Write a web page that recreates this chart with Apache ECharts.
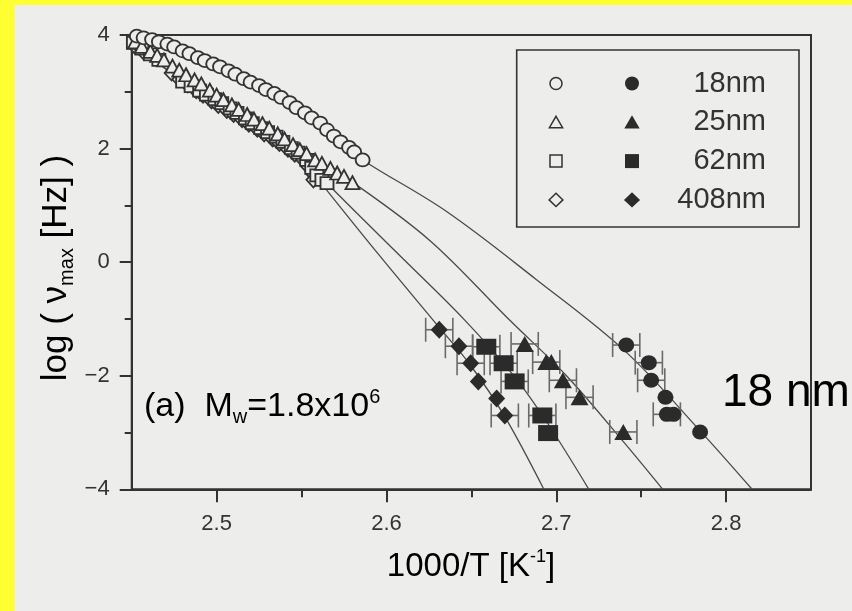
<!DOCTYPE html>
<html>
<head>
<meta charset="utf-8">
<script src="https://cdn.jsdelivr.net/npm/echarts@6/dist/echarts.min.js"></script>
<style>
  html, body { margin: 0; padding: 0; background: #ededeb; }
  #chart { width: 852px; height: 611px; }
</style>
</head>
<body>
<div id="chart"></div>
<script>
// Film thicknesses shown in the legend
const sizeLabels = ['18nm', '25nm', '62nm', '408nm'];

// Axis ticks
const xTicks = [2.5, 2.6, 2.7, 2.8];
const xMinorTicks = [2.55, 2.65, 2.75];
const yTicks = [-4, -2, 0, 2, 4];

// Open symbols: dielectric data, [1000/T, log(nu_max)]
const open18 = [[2.453,3.98],[2.457,3.95],[2.462,3.92],[2.466,3.88],[2.471,3.84],[2.475,3.79],[2.480,3.72],[2.484,3.67],[2.489,3.60],[2.493,3.55],[2.498,3.49],[2.502,3.44],[2.507,3.37],[2.511,3.31],[2.516,3.23],[2.520,3.17],[2.525,3.11],[2.529,3.04],[2.534,2.97],[2.538,2.90],[2.543,2.81],[2.547,2.72],[2.552,2.63],[2.556,2.54],[2.561,2.45],[2.565,2.33],[2.569,2.22],[2.573,2.12],[2.578,2.02],[2.581,1.94],[2.586,1.80]];
const open25 = [[2.452,3.88],[2.456,3.80],[2.461,3.71],[2.465,3.64],[2.469,3.56],[2.474,3.45],[2.478,3.38],[2.482,3.30],[2.487,3.21],[2.491,3.14],[2.496,3.03],[2.500,2.94],[2.504,2.86],[2.509,2.77],[2.513,2.69],[2.518,2.60],[2.522,2.52],[2.527,2.44],[2.531,2.36],[2.536,2.26],[2.540,2.17],[2.545,2.07],[2.549,1.98],[2.553,1.91],[2.558,1.80],[2.562,1.74],[2.567,1.65],[2.571,1.57],[2.575,1.51],[2.580,1.40]];
const open62 = [[2.451,3.86],[2.456,3.76],[2.461,3.66],[2.466,3.56],[2.480,3.18],[2.485,3.10],[2.490,3.02],[2.494,2.95],[2.499,2.87],[2.503,2.80],[2.508,2.71],[2.512,2.63],[2.517,2.53],[2.521,2.45],[2.526,2.36],[2.530,2.29],[2.535,2.21],[2.539,2.12],[2.544,2.01],[2.548,1.93],[2.553,1.80],[2.556,1.66],[2.559,1.53],[2.562,1.45],[2.565,1.39]];
const open408 = [[2.452,3.80],[2.457,3.70],[2.4735,3.33],[2.478,3.22],[2.483,3.12],[2.488,3.02],[2.492,2.94],[2.497,2.84],[2.501,2.76],[2.506,2.67],[2.510,2.60],[2.515,2.51],[2.519,2.43],[2.524,2.34],[2.528,2.26],[2.533,2.17],[2.537,2.09],[2.542,1.99],[2.546,1.90],[2.551,1.80],[2.554,1.68],[2.557,1.55],[2.557,1.45]];

// Filled symbols: calorimetric data with horizontal error bars (half widths)
const filled18 = [[2.7412,-1.46],[2.7545,-1.77],[2.7559,-2.08],[2.7643,-2.38],[2.7651,-2.68],[2.7690,-2.68],[2.7847,-2.99]];
const err18 = [0.008,0.008,0.008,0,0.008,0,0];
const filled25 = [[2.6814,-1.44],[2.6941,-1.76],[2.6971,-1.76],[2.7039,-2.08],[2.7137,-2.38],[2.7395,-2.99]];
const err25 = [0.008,0.008,0,0.008,0.008,0.008];
const filled62 = [[2.6588,-1.49],[2.6690,-1.78],[2.6755,-2.10],[2.6918,-2.70],[2.6952,-3.01]];
const err62 = [0.008,0.008,0.008,0.008,0];
const filled408 = [[2.6311,-1.19],[2.6427,-1.48],[2.6496,-1.78],[2.6541,-2.10],[2.6649,-2.40],[2.6697,-2.70]];
const err408 = [0.008,0.008,0.008,0,0,0.008];

// VFT fit curves
const fit18 = [[2.453,3.98],[2.475,3.79],[2.496,3.52],[2.516,3.23],[2.538,2.90],[2.556,2.54],[2.573,2.12],[2.586,1.80],[2.635,0.90],[2.688,-0.30],[2.741,-1.58],[2.785,-2.98],[2.8153,-4.0]];
const fit25 = [[2.452,3.88],[2.474,3.45],[2.496,3.03],[2.518,2.60],[2.540,2.17],[2.558,1.80],[2.5804,1.40],[2.626,0.37],[2.6725,-1.02],[2.706,-2.00],[2.7395,-3.16],[2.7627,-4.0]];
const fit62 = [[2.452,3.82],[2.475,3.30],[2.499,2.87],[2.517,2.53],[2.535,2.21],[2.548,1.93],[2.565,1.39],[2.605,0.20],[2.6461,-1.02],[2.6755,-2.02],[2.6952,-2.85],[2.7192,-4.0]];
const fit408 = [[2.452,3.80],[2.4735,3.33],[2.497,2.84],[2.519,2.43],[2.537,2.09],[2.551,1.80],[2.556,1.60],[2.595,0.15],[2.6311,-1.15],[2.6496,-1.82],[2.6697,-2.72],[2.6927,-4.0]];

const INK = '#333333';
const PAPER = '#ededeb';
const FONT = '"Liberation Sans", Arial, sans-serif';

const chart = echarts.init(document.getElementById('chart'), null, { renderer: 'canvas' });

function fitSeries(data) {
  return {
    type: 'line', data: data, showSymbol: false, smooth: 0.35, silent: true, z: 1,
    lineStyle: { color: '#4a4a4a', width: 1.3 }
  };
}
function openSeries(data, symbol, size) {
  return {
    type: 'scatter', data: data, symbol: symbol, symbolSize: size, z: 3, silent: true,
    itemStyle: { color: PAPER, borderColor: INK, borderWidth: 1.8, opacity: 1 }
  };
}
function filledSeries(data, symbol, size) {
  return {
    type: 'scatter', data: data, symbol: symbol, symbolSize: size, z: 5, silent: true,
    itemStyle: { color: '#2b2b2b', opacity: 1 }
  };
}
function errorSeries(data, errs) {
  return {
    type: 'custom', z: 4, silent: true,
    data: data.map((p, i) => [p[0], p[1], errs[i]]),
    renderItem: function (params, api) {
      const x = api.value(0), y = api.value(1), e = api.value(2);
      if (!e) return null;
      const l = api.coord([x - e, y]);
      const r = api.coord([x + e, y]);
      const cap = 12;
      const st = { stroke: '#6a6a6a', lineWidth: 1.6 };
      return {
        type: 'group',
        children: [
          { type: 'line', shape: { x1: l[0], y1: l[1], x2: r[0], y2: r[1] }, style: st },
          { type: 'line', shape: { x1: l[0], y1: l[1] - cap, x2: l[0], y2: l[1] + cap }, style: st },
          { type: 'line', shape: { x1: r[0], y1: r[1] - cap, x2: r[0], y2: r[1] + cap }, style: st }
        ]
      };
    }
  };
}

// Legend drawn as graphics: open symbol, filled symbol, label
const legendTop = 50, legendRow0 = 83.5, legendStep = 38.8;
const openX = 556, fillX = 632, textRight = 766;
function legendShape(kind, cx, cy, s, filled) {
  const style = filled ? { fill: '#2b2b2b' } : { fill: PAPER, stroke: INK, lineWidth: 1.5 };
  const h = s / 2;
  if (kind === 'circle') return { type: 'circle', shape: { cx: cx, cy: cy, r: h }, style: style };
  if (kind === 'rect') return { type: 'rect', shape: { x: cx - h, y: cy - h, width: s, height: s }, style: style };
  if (kind === 'triangle') return { type: 'polygon', shape: { points: [[cx, cy - h], [cx + h * 1.1, cy + h * 0.9], [cx - h * 1.1, cy + h * 0.9]] }, style: style };
  return { type: 'polygon', shape: { points: [[cx, cy - h * 1.1], [cx + h * 1.15, cy], [cx, cy + h * 1.1], [cx - h * 1.15, cy]] }, style: style };
}
const kinds = ['circle', 'triangle', 'rect', 'diamond'];
const legendEls = [];
sizeLabels.forEach((lab, i) => {
  const cy = legendRow0 + i * legendStep;
  legendEls.push(legendShape(kinds[i], openX, cy, 12, false));
  legendEls.push(legendShape(kinds[i], fillX, cy, 14, true));
  legendEls.push({
    type: 'text', x: textRight, y: cy,
    style: { text: lab, align: 'right', verticalAlign: 'middle', fontFamily: FONT, fontSize: 29, fill: '#333' }
  });
});

// tick label text style, applied through rich text
const tickRich = { t: { fontFamily: FONT, fontSize: 22, color: '#333', lineHeight: 26 } };
const signed = v => (v < 0 ? '\u2212' + Math.abs(v) : String(v));

const option = {
  backgroundColor: PAPER,
  animation: false,
  grid: { left: 131.7, right: 41, top: 35, bottom: 121.7, show: true, borderColor: INK, borderWidth: 2, backgroundColor: 'transparent' },
  xAxis: [
    {
      type: 'value', min: 2.45, max: 2.85, position: 'bottom',
      axisLine: { show: true, onZero: false, lineStyle: { color: INK, width: 2 } },
      axisTick: { show: true, customValues: xTicks, length: 13, lineStyle: { color: INK, width: 2 } },
      axisLabel: { show: true, customValues: xTicks, formatter: v => '{t|' + v.toFixed(1) + '}', rich: tickRich, margin: 22 },
      splitLine: { show: false }
    },
    {
      type: 'value', min: 2.45, max: 2.85, position: 'bottom',
      axisLine: { show: false, onZero: false },
      axisTick: { show: true, customValues: xMinorTicks, length: 8, lineStyle: { color: INK, width: 2 } },
      axisLabel: { show: false },
      splitLine: { show: false }
    }
  ],
  yAxis: {
    type: 'value', min: -4, max: 4, interval: 2,
    axisLine: { show: true, onZero: false, lineStyle: { color: INK, width: 2 } },
    axisTick: { show: true, length: 12, lineStyle: { color: INK, width: 2 } },
    minorTick: { show: true, splitNumber: 2, length: 7, lineStyle: { color: INK, width: 2 } },
    axisLabel: { margin: 22, customValues: yTicks, formatter: v => '{t|' + signed(v) + '}', rich: tickRich },
    splitLine: { show: false }, minorSplitLine: { show: false }
  },
  series: [
    fitSeries(fit18), fitSeries(fit25), fitSeries(fit62), fitSeries(fit408),
    openSeries(open408, 'diamond', [14, 15]),
    openSeries(open62, 'rect', [13, 12]),
    openSeries(open25, 'triangle', [14, 13]),
    openSeries(open18, 'circle', [14, 13]),
    errorSeries(filled18, err18), errorSeries(filled25, err25),
    errorSeries(filled62, err62), errorSeries(filled408, err408),
    filledSeries(filled18, 'circle', [16, 15]),
    filledSeries(filled25, 'triangle', [18, 16]),
    filledSeries(filled62, 'rect', [20, 16]),
    filledSeries(filled408, 'diamond', [17, 18])
  ],
  graphic: [
    // yellow margin around the scanned page
    { type: 'rect', shape: { x: 0, y: 0, width: 15, height: 611 }, style: { fill: '#ffff33' } },
    { type: 'rect', shape: { x: 0, y: 0, width: 852, height: 5 }, style: { fill: '#ffff33' } },
    // legend frame
    { type: 'rect', shape: { x: 516.7, y: legendTop, width: 282.3, height: 177 }, style: { fill: 'none', stroke: INK, lineWidth: 1.6 } },
    ...legendEls,
    // axis titles
    {
      type: 'text', x: 471, y: 567,
      style: {
        text: '{a|1000/T [K}{s|-1}{a|]}', align: 'center', verticalAlign: 'middle',
        rich: {
          a: { fontFamily: FONT, fontSize: 33, color: '#333', lineHeight: 38 },
          s: { fontFamily: FONT, fontSize: 18, color: '#333', verticalAlign: 'top', lineHeight: 18 }
        }
      }
    },
    {
      type: 'text', x: 56, y: 268, rotation: Math.PI / 2,
      style: {
        text: '{a|log ( ν}{b|max}{a| [Hz] )}', align: 'center', verticalAlign: 'middle',
        rich: {
          a: { fontFamily: FONT, fontSize: 35, color: '#333', lineHeight: 42 },
          b: { fontFamily: FONT, fontSize: 20, color: '#333', verticalAlign: 'bottom', lineHeight: 20 }
        }
      }
    },
    // sample annotation
    {
      type: 'text', x: 144, y: 407,
      style: {
        text: '{a|(a)  M}{b|w}{a|=1.8x10}{s|6}', align: 'left', verticalAlign: 'middle',
        rich: {
          a: { fontFamily: FONT, fontSize: 34, color: '#333', lineHeight: 40 },
          b: { fontFamily: FONT, fontSize: 20, color: '#333', verticalAlign: 'bottom', lineHeight: 18 },
          s: { fontFamily: FONT, fontSize: 20, color: '#333', verticalAlign: 'top', lineHeight: 18 }
        }
      }
    },
    // label added on top of the figure
    {
      type: 'text', x: 722, y: 393,
      style: { text: '18 nm', align: 'left', verticalAlign: 'middle', fontFamily: FONT, fontSize: 46, fill: '#000' }
    }
  ]
};
chart.setOption(option);
</script>
</body>
</html>
